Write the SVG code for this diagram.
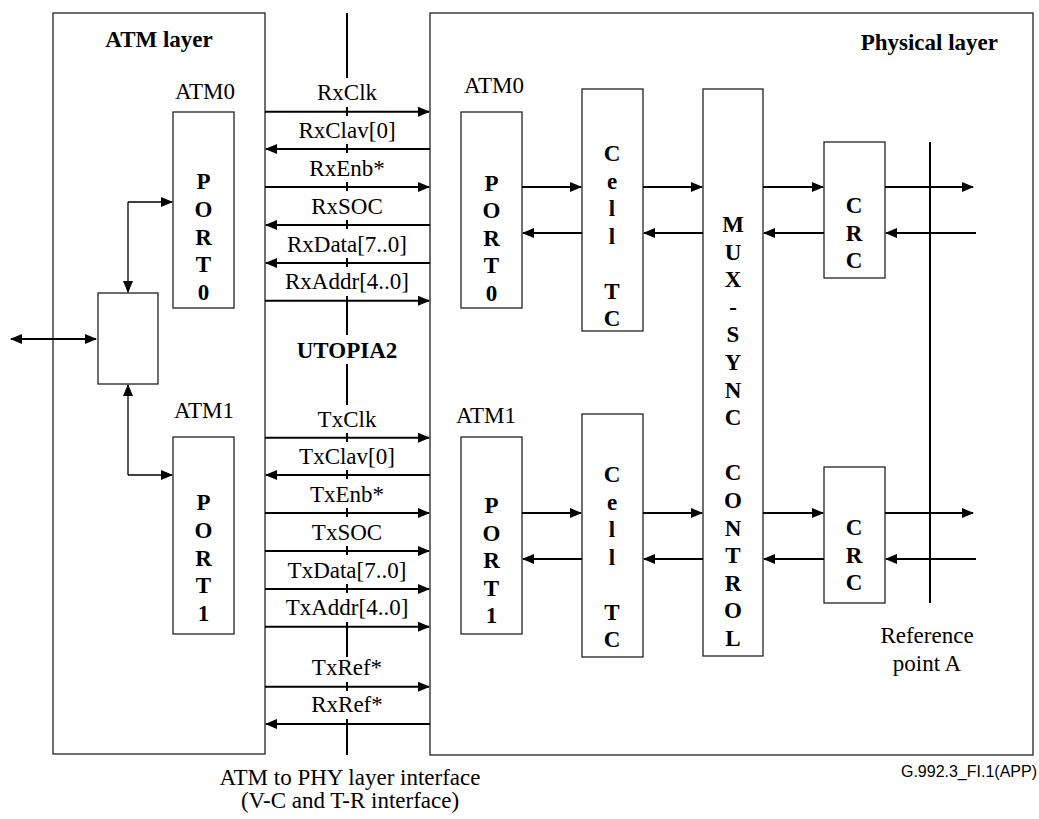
<svg xmlns="http://www.w3.org/2000/svg" width="1039" height="819" viewBox="0 0 1039 819">
<style>
.box{fill:#fff;stroke:#222;stroke-width:1.3}
.t{font-family:"Liberation Serif","Times New Roman",serif;font-size:23px;fill:#000}
.b{font-weight:bold}
.m{text-anchor:middle}
.w{stroke:#000;stroke-width:2;fill:none}
.th{stroke:#000;stroke-width:1.3;fill:none}
.ar{marker-end:url(#ah)}
.dbl{marker-start:url(#ah);marker-end:url(#ah)}
</style>
<defs>
<marker id="ah" markerWidth="12" markerHeight="10" refX="11" refY="5" orient="auto-start-reverse" markerUnits="userSpaceOnUse"><path d="M0,0 L12,5 L0,10 z" fill="#000"/></marker>
</defs>
<rect width="1039" height="819" fill="#fff"/>

<g id="atm-layer">
<rect class="box" x="53" y="13" width="212" height="741"/>
<text class="t b m" x="159" y="47">ATM layer</text>
</g>
<g id="physical-layer">
<rect class="box" x="430" y="13" width="603" height="742"/>
<text class="t b" x="998" y="50" text-anchor="end">Physical layer</text>
</g>

<g id="interface-line">
<path class="w" d="M347,13V78M347,107V116M347,144V153M347,182V191M347,220V229M347,258V267M347,296V335M347,364V405M347,433V442M347,470V479M347,508V517M347,546V555M347,584V593M347,622V657M347,682V691M347,719V755"/>
<text class="t b m" x="347" y="358">UTOPIA2</text>
</g>

<g id="atm-port0">
<text class="t m" x="205" y="99">ATM0</text>
<rect class="box" x="173" y="112" width="61" height="196"/>
<text class="t b m" x="203.5" y="189"><tspan x="203.5">P</tspan><tspan x="203.5" dy="27.8">O</tspan><tspan x="203.5" dy="27.8">R</tspan><tspan x="203.5" dy="27.8">T</tspan><tspan x="203.5" dy="27.8">0</tspan></text>
</g>
<g id="atm-port1">
<text class="t m" x="204" y="418">ATM1</text>
<rect class="box" x="173" y="437" width="61" height="197"/>
<text class="t b m" x="203.5" y="510"><tspan x="203.5">P</tspan><tspan x="203.5" dy="27.8">O</tspan><tspan x="203.5" dy="27.8">R</tspan><tspan x="203.5" dy="27.8">T</tspan><tspan x="203.5" dy="27.8">1</tspan></text>
</g>
<g id="atm-core">
<rect class="box" x="98" y="293" width="60" height="91"/>
</g>

<g id="phy-port0">
<text class="t m" x="494" y="93">ATM0</text>
<rect class="box" x="461" y="112" width="61" height="196"/>
<text class="t b m" x="491.5" y="191"><tspan x="491.5">P</tspan><tspan x="491.5" dy="27.4">O</tspan><tspan x="491.5" dy="27.4">R</tspan><tspan x="491.5" dy="27.4">T</tspan><tspan x="491.5" dy="27.4">0</tspan></text>
</g>
<g id="phy-port1">
<text class="t m" x="486" y="423">ATM1</text>
<rect class="box" x="461" y="437" width="61" height="197"/>
<text class="t b m" x="491.5" y="513"><tspan x="491.5">P</tspan><tspan x="491.5" dy="27.5">O</tspan><tspan x="491.5" dy="27.5">R</tspan><tspan x="491.5" dy="27.5">T</tspan><tspan x="491.5" dy="27.5">1</tspan></text>
</g>
<g id="celltc0">
<rect class="box" x="582" y="89" width="61" height="242"/>
<text class="t b m" x="612" y="161"><tspan x="612">C</tspan><tspan x="612" dy="27.5">e</tspan><tspan x="612" dy="27.5">l</tspan><tspan x="612" dy="27.5">l</tspan><tspan x="612" dy="55">T</tspan><tspan x="612" dy="27.5">C</tspan></text>
</g>
<g id="celltc1">
<rect class="box" x="582" y="414" width="61" height="243"/>
<text class="t b m" x="612" y="482"><tspan x="612">C</tspan><tspan x="612" dy="27.5">e</tspan><tspan x="612" dy="27.5">l</tspan><tspan x="612" dy="27.5">l</tspan><tspan x="612" dy="55">T</tspan><tspan x="612" dy="27.5">C</tspan></text>
</g>
<g id="mux">
<rect class="box" x="703" y="89" width="60" height="567"/>
<text class="t b m" x="733" y="232"><tspan x="733">M</tspan><tspan x="733" dy="27.6">U</tspan><tspan x="733" dy="27.6">X</tspan><tspan x="733" dy="27.6">-</tspan><tspan x="733" dy="27.6">S</tspan><tspan x="733" dy="27.6">Y</tspan><tspan x="733" dy="27.6">N</tspan><tspan x="733" dy="27.6">C</tspan><tspan x="733" dy="55.2">C</tspan><tspan x="733" dy="27.6">O</tspan><tspan x="733" dy="27.6">N</tspan><tspan x="733" dy="27.6">T</tspan><tspan x="733" dy="27.6">R</tspan><tspan x="733" dy="27.6">O</tspan><tspan x="733" dy="27.6">L</tspan></text>
</g>
<g id="crc0">
<rect class="box" x="824" y="142" width="61" height="136"/>
<text class="t b m" x="854" y="213"><tspan x="854">C</tspan><tspan x="854" dy="27.5">R</tspan><tspan x="854" dy="27.5">C</tspan></text>
</g>
<g id="crc1">
<rect class="box" x="824" y="467" width="61" height="136"/>
<text class="t b m" x="854" y="535"><tspan x="854">C</tspan><tspan x="854" dy="27.5">R</tspan><tspan x="854" dy="27.5">C</tspan></text>
</g>
<g id="reference-point">
<path class="w" d="M930,142V603"/>
<text class="t m" x="927" y="643">Reference</text>
<text class="t m" x="927" y="671">point A</text>
</g>

<g id="connectors">
<path class="th ar" d="M128,202H172"/>
<path class="th ar" d="M128,202V292"/>
<path class="th ar" d="M128,475V385"/>
<path class="th ar" d="M128,475H172"/>
<path class="w dbl" d="M11,339H96"/>

<path class="w ar" d="M265,111.7H429"/>
<path class="w ar" d="M430,149H266"/>
<path class="w ar" d="M265,187H429"/>
<path class="w ar" d="M430,225H266"/>
<path class="w ar" d="M430,263H266"/>
<path class="w ar" d="M265,300.7H429"/>
<path class="w ar" d="M265,437.7H429"/>
<path class="w ar" d="M430,475H266"/>
<path class="w ar" d="M265,513H429"/>
<path class="w ar" d="M265,551H429"/>
<path class="w ar" d="M265,589H429"/>
<path class="w ar" d="M265,626.7H429"/>
<path class="w ar" d="M265,686.7H429"/>
<path class="w ar" d="M430,724H266"/>

<path class="w ar" d="M522,187H581"/>
<path class="w ar" d="M582,233H523"/>
<path class="w ar" d="M643,187H702"/>
<path class="w ar" d="M703,233H644"/>
<path class="w ar" d="M763,187H823"/>
<path class="w ar" d="M824,233H764"/>
<path class="w ar" d="M885,187H973"/>
<path class="w ar" d="M976,233H886"/>

<path class="w ar" d="M522,513H581"/>
<path class="w ar" d="M582,559H523"/>
<path class="w ar" d="M643,513H702"/>
<path class="w ar" d="M703,559H644"/>
<path class="w ar" d="M763,513H823"/>
<path class="w ar" d="M824,559H764"/>
<path class="w ar" d="M885,513H973"/>
<path class="w ar" d="M976,559H886"/>
</g>

<g id="signal-labels">
<text class="t m" x="347" y="100">RxClk</text>
<text class="t m" x="347" y="138">RxClav[0]</text>
<text class="t m" x="347" y="176">RxEnb*</text>
<text class="t m" x="347" y="214">RxSOC</text>
<text class="t m" x="347" y="252">RxData[7..0]</text>
<text class="t m" x="347" y="289">RxAddr[4..0]</text>
<text class="t m" x="347" y="427">TxClk</text>
<text class="t m" x="347" y="464">TxClav[0]</text>
<text class="t m" x="347" y="502">TxEnb*</text>
<text class="t m" x="347" y="540">TxSOC</text>
<text class="t m" x="347" y="578">TxData[7..0]</text>
<text class="t m" x="347" y="615">TxAddr[4..0]</text>
<text class="t m" x="347" y="675">TxRef*</text>
<text class="t m" x="347" y="712">RxRef*</text>
</g>

<g id="captions">
<text class="t m" x="350" y="785">ATM to PHY layer interface</text>
<text class="t m" x="350" y="808">(V-C and T-R interface)</text>
<text x="1037" y="777" text-anchor="end" font-family="'Liberation Sans',Arial,sans-serif" font-size="16">G.992.3_FI.1(APP)</text>
</g>
</svg>
